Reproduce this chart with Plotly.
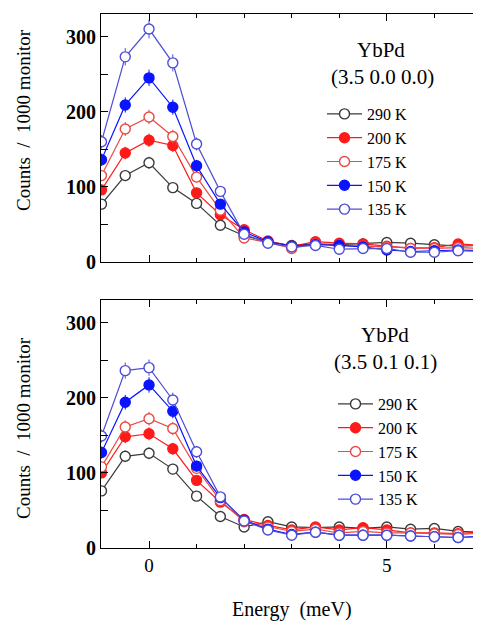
import plotly.graph_objects as go
import numpy as np

energy = [-1, -0.5, 0, 0.5, 1, 1.5, 2, 2.5, 3, 3.5, 4, 4.5, 5, 5.5, 6, 6.5, 7]
temps = ["290 K", "200 K", "175 K", "150 K", "135 K"]

top_290 = [77, 115, 132, 99, 78, 49, 35, 27, 22, 24, 23, 24, 26, 25, 23, 21, 22]
top_200 = [96, 145, 162, 155, 92, 63, 43, 28, 21, 27, 25, 24, 21, 18, 19, 24, 22]
top_175 = [115, 177, 193, 167, 113, 69, 32, 26, 18, 24, 22, 21, 20, 18, 18, 19, 18]
top_150 = [136, 209, 245, 206, 128, 77, 40, 27, 21, 23, 22, 20, 16, 14, 15, 16, 15]
top_135 = [160, 273, 310, 265, 157, 94, 37, 25, 20, 22, 17, 18, 18, 13, 13, 15, 14]

bot_290 = [76, 122, 126, 105, 69, 42, 28, 35, 28, 27, 28, 26, 28, 25, 26, 22, 21]
bot_200 = [100, 148, 152, 132, 90, 61, 38, 30, 24, 28, 24, 27, 24, 20, 20, 19, 22]
bot_175 = [108, 161, 172, 159, 106, 63, 35, 28, 22, 25, 20, 22, 20, 20, 19, 18, 20]
bot_150 = [127, 194, 217, 182, 109, 67, 37, 25, 18, 21, 17, 17, 17, 16, 15, 14, 16]
bot_135 = [149, 236, 240, 197, 128, 68, 36, 24, 17, 21, 17, 17, 17, 16, 15, 14, 15]

colors = ["#3a3a3a", "#ff1a1a", "#e84a44", "#0a14ff", "#4e4ed6"]
filled = [False, True, False, True, False]

FONT = "Liberation Serif, DejaVu Serif, Times New Roman, serif"
fig = go.Figure()

def add_panel(series, xaxis, yaxis, legend):
    for name, vals, col, fill in zip(temps, series, colors, filled):
        err = list(0.7 * np.sqrt(np.array(vals, dtype=float)))
        fig.add_trace(go.Scatter(
            x=energy, y=vals, name=name, mode="lines+markers",
            xaxis=xaxis, yaxis=yaxis, legend=legend,
            line=dict(color=col, width=1.2),
            marker=dict(symbol="circle", size=10,
                        color=col if fill else "white",
                        line=dict(color=col, width=1.4)),
            error_y=dict(type="data", array=err, color=col, thickness=1, width=0),
        ))

add_panel([top_290, top_200, top_175, top_150, top_135], "x", "y", "legend")
add_panel([bot_290, bot_200, bot_175, bot_150, bot_135], "x2", "y2", "legend2")

# the page body adds an 8px offset; reference pixel coords are mapped accordingly
W, H = 481, 621
L, R, T, B = 93, 9, 6, 81
pw = W - L - R
ph = H - T - B
OFF = 8

def px_x(p):
    return (p - OFF - L) / pw

def px_y(p):
    return (H - B - (p - OFF)) / ph

xax = dict(range=[-1.01, 6.96], showline=True, linecolor="black", linewidth=1.2,
           mirror="ticks", ticks="inside", ticklen=7, tickwidth=1.2, tickcolor="black",
           tickvals=[0, 5], showgrid=False, zeroline=False,
           minor=dict(tickvals=[1, 2, 3, 4, 6], ticks="inside", ticklen=4,
                      tickwidth=1, tickcolor="black", showgrid=False),
           tickfont=dict(family=FONT, size=19, color="black"))
yax = dict(range=[0, 330], showline=True, linecolor="black", linewidth=1.2,
           mirror="ticks", ticks="inside", ticklen=7, tickwidth=1.2, tickcolor="black",
           tickvals=[0, 100, 200, 300], showgrid=False, zeroline=False,
           minor=dict(tickvals=[50, 150, 250], ticks="inside", ticklen=7,
                      tickwidth=1, tickcolor="black", showgrid=False),
           tickfont=dict(family=FONT, size=20, color="black", weight="bold"))

top_dom = [px_y(262), 1.0]
bot_dom = [0.0, px_y(300)]

def ann(text, x, y, size=18, angle=0):
    return dict(text=text, x=px_x(x), y=px_y(y), xref="paper", yref="paper",
                xanchor="center", yanchor="middle", showarrow=False, textangle=angle,
                font=dict(family=FONT, size=size, color="black"))

leg_font = dict(family=FONT, size=16, color="black")

fig.update_layout(
    width=W, height=H, margin=dict(l=L, r=R, t=T, b=B, autoexpand=False),
    paper_bgcolor="white", plot_bgcolor="white",
    font=dict(family=FONT, color="black"),
    xaxis=dict(xax, anchor="y", showticklabels=False),
    yaxis=dict(yax, domain=top_dom, anchor="x"),
    xaxis2=dict(xax, anchor="y2"),
    yaxis2=dict(yax, domain=bot_dom, anchor="x2"),
    legend=dict(x=px_x(322), y=px_y(97), xanchor="left", yanchor="top",
                bgcolor="rgba(0,0,0,0)", font=leg_font,
                itemwidth=35, tracegroupgap=0),
    legend2=dict(x=px_x(333), y=px_y(387), xanchor="left", yanchor="top",
                 bgcolor="rgba(0,0,0,0)", font=leg_font,
                 itemwidth=35, tracegroupgap=0),
    annotations=[
        ann("YbPd", 381, 50, size=21),
        ann("(3.5 0.0 0.0)", 382, 77, size=21),
        ann("YbPd", 385, 335, size=21),
        ann("(3.5 0.1 0.1)", 385, 362, size=21),
        ann("Counts  /  1000 monitor", 23, 120, size=19, angle=-90),
        ann("Counts  /  1000 monitor", 23, 428, size=19, angle=-90),
        ann("Energy  (meV)", 292, 609, size=20),
    ],
)

fig.write_html("out.html")
